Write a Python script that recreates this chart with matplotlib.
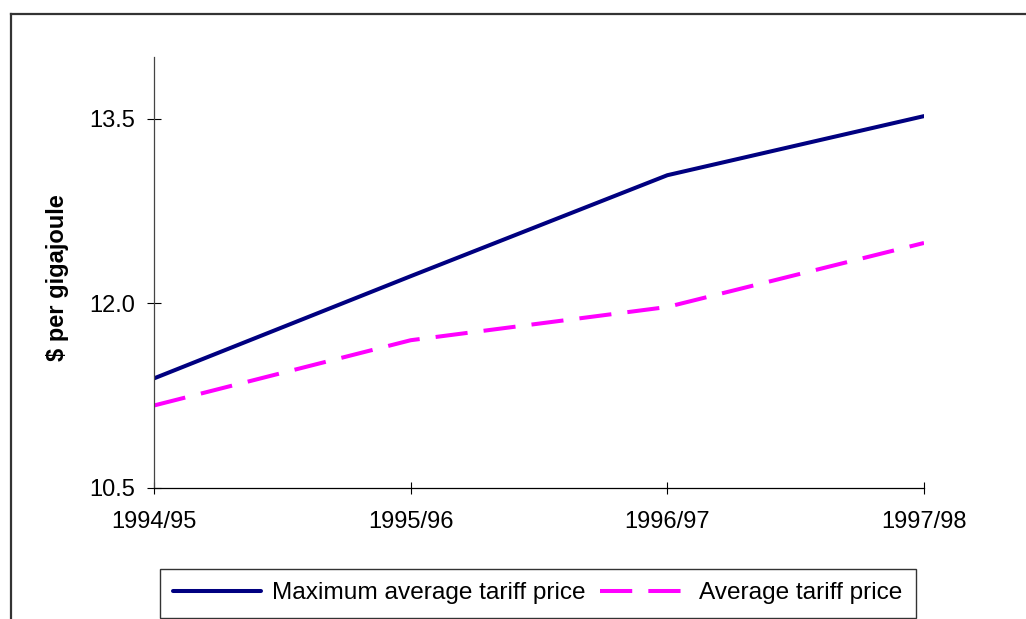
import matplotlib
matplotlib.use('Agg')
from matplotlib import pyplot as plt, rcParams
from matplotlib.lines import Line2D

rcParams['font.family'] = ['Liberation Sans', 'DejaVu Sans']

# 数据
years = ['1994/95', '1995/96', '1996/97', '1997/98']
max_avg_price = [11.39, 12.22, 13.04, 13.52]
avg_price = [11.17, 11.70, 11.97, 12.49]
y_ticks = [10.5, 12.0, 13.5]

W, H = 1026, 619
fig = plt.figure(figsize=(W / 100, H / 100), dpi=100)
ax = fig.add_axes([154 / W, 1 - 488 / H, 770 / W, 431 / H])

x = list(range(len(years)))
ax.plot(x, max_avg_price, color='#000080', linewidth=2.9,
        solid_capstyle='round', label='Maximum average tariff price')
ax.plot(x, avg_price, color='#FF00FF', linewidth=2.9, dashes=(8, 4),
        dash_capstyle='butt', label='Average tariff price')

ax.set_xlim(0, 3)
ax.set_ylim(10.5, 14.0)
ax.set_xticks(x)
ax.set_xticklabels(years)
ax.set_yticks(y_ticks)
ax.set_yticklabels(['{:.1f}'.format(v) for v in y_ticks])
ax.tick_params(axis='y', direction='inout', length=10, width=0.8, pad=8.7, labelsize=17)
ax.tick_params(axis='x', direction='inout', length=8.6, width=0.8, pad=12.5, labelsize=17)

for s in ['top', 'right']:
    ax.spines[s].set_visible(False)
ax.spines['left'].set_color('#444444')
ax.spines['left'].set_linewidth(0.9)
ax.spines['bottom'].set_linewidth(0.9)

ax.set_ylabel('$ per gigajoule', fontsize=17, fontweight='bold', ha='center', va='center')
ax.yaxis.set_label_coords((58 - 154) / 770, (488 - 278) / 431)

leg = fig.legend(loc='center', bbox_to_anchor=(538 / W, 1 - 593 / H), ncol=2,
                 fontsize=17.6, frameon=True, fancybox=False, edgecolor='black',
                 handlelength=3.6, handletextpad=0.45, columnspacing=0.6,
                 borderpad=0.55, borderaxespad=0)
leg.get_frame().set_linewidth(1.0)

# 外框
fig.add_artist(Line2D([11 / W, 11 / W], [0, 1 - 14 / H], transform=fig.transFigure,
                      color='#333333', linewidth=1.6))
fig.add_artist(Line2D([11 / W, 1], [1 - 14 / H, 1 - 14 / H], transform=fig.transFigure,
                      color='#333333', linewidth=1.6))

plt.savefig('out.png', dpi=100)
